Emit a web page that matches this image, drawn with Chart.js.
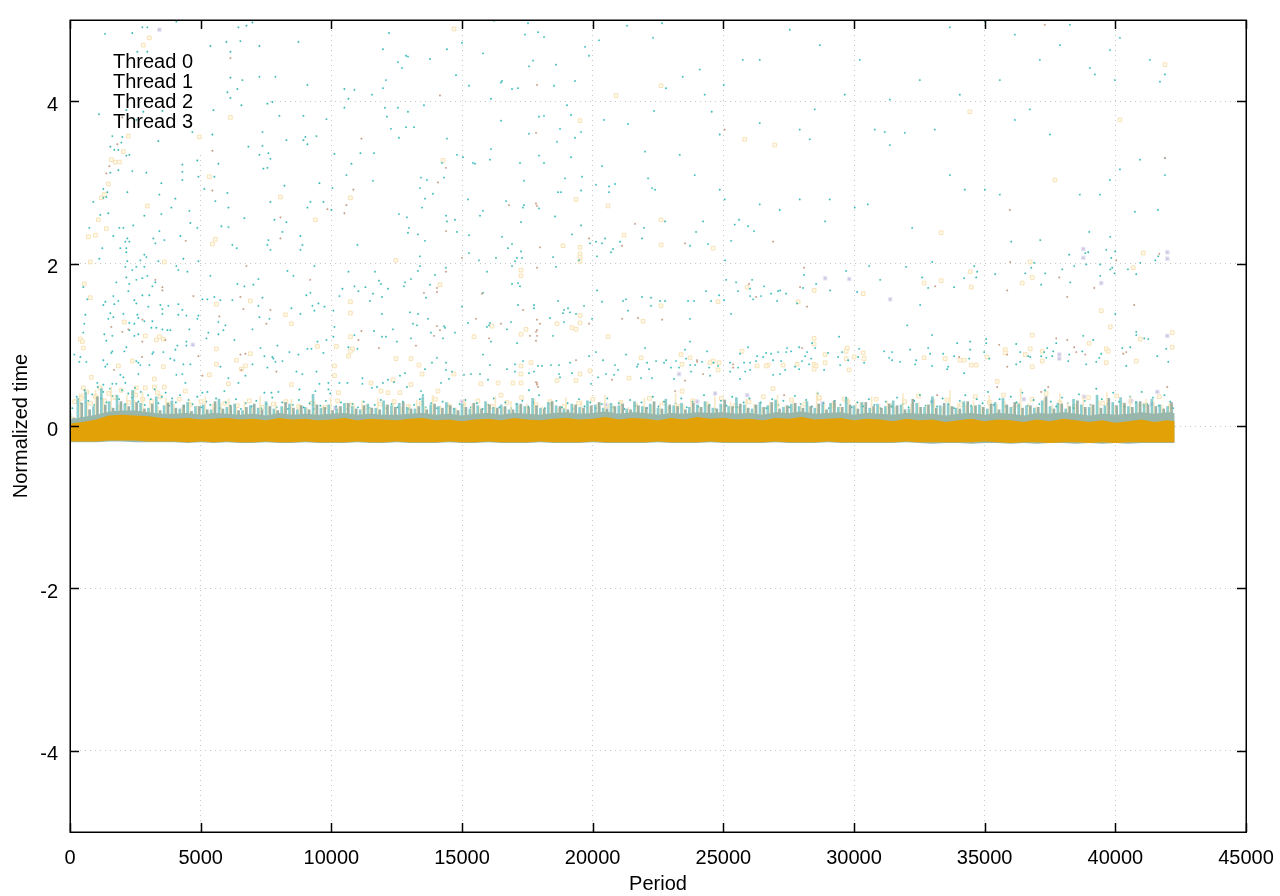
<!DOCTYPE html>
<html><head><meta charset="utf-8">
<style>html,body{margin:0;padding:0;background:#fff}#w{width:1280px;height:896px;position:relative}</style>
<script src="https://cdn.jsdelivr.net/npm/chart.js@4"></script>
</head><body><div id="w"><canvas id="c" width="1280" height="896"></canvas></div>
<script>
const threadNames=["Thread 0","Thread 1","Thread 2","Thread 3"];
const xTicks=[0,5000,10000,15000,20000,25000,30000,35000,40000,45000];
const yTicks=[-4,-2,0,2,4];
const thread0Points=[[3420,4.88],[28895,1.82],[29814,1.81],[31383,1.56],[23306,.64],[24684,.40],[25909,.38],[38772,2.18],[38772,2.07],[41988,2.14],[41988,2.06],[39461,1.76],[41988,1.11],[37854,.88],[37854,.83],[41605,.42],[4700,1.0],[10150,.22],[15000,.3],[20500,.26],[24000,.3],[28800,.28],[33000,.3],[36500,.33],[38800,.36],[40600,.31],[41400,.27]];
const thread1Points=[[1340,4.83],[2386,4.84],[2769,4.91],[2960,4.91],[4070,4.98],[6444,4.91],[6750,4.93],[6980,4.97],[5372,4.68],[5984,4.73],[6520,4.74],[7248,4.68],[8741,4.73],[6138,4.61],[2578,4.61],[2960,4.61],[6138,4.29],[6597,4.26],[7248,4.30],[7860,4.30],[9085,4.20],[10501,4.15],[10884,4.14],[6023,4.11],[6406,4.15],[6138,4.04],[6559,3.95],[7554,3.97],[7745,3.99],[10655,4.03],[10501,3.92],[5487,3.89],[8013,3.82],[8932,3.82],[9813,3.78],[1110,3.84],[2156,3.89],[2807,3.87],[3535,3.88],[2539,3.77],[5449,3.59],[7363,3.62],[1620,3.57],[2003,3.56],[3381,3.51],[4683,3.62],[8281,3.52],[9009,3.56],[9430,3.57],[8932,3.52],[9085,3.47],[6827,3.44],[7363,3.45],[1544,3.44],[1965,3.49],[1697,3.40],[1850,3.40],[2271,3.34],[2156,3.33],[7248,3.34],[7592,3.36],[7669,3.29],[10119,3.35],[11114,3.36],[5678,3.23],[4874,3.27],[4300,3.22],[7401,3.17],[7554,3.18],[10769,3.23],[1850,3.15],[2386,3.14],[2922,3.12],[1544,3.12],[4300,3.13],[4913,3.07],[5525,3.07],[4300,3.03],[10578,3.09],[3496,2.99],[9544,2.99],[8205,2.96],[10042,2.93],[5142,2.92],[2195,2.88],[6023,2.87],[1429,2.88],[1276,2.92],[3420,2.85],[4032,2.80],[5563,2.77],[7669,2.76],[9200,2.76],[9698,2.76],[893,2.76],[1391,2.82],[1276,2.81],[6061,2.69],[9085,2.69],[3879,2.69],[4568,2.65],[1467,2.62],[1161,2.60],[2845,2.59],[3496,2.61],[10004,2.66],[6673,2.56],
[12971,2.44],[12932,2.38],[13315,2.36],[13583,2.28],[14425,2.52],[14732,2.54],[14808,2.39],[15267,2.35],[16531,2.33],[17258,2.51],[19555,2.47],[19210,2.36],[21966,2.44],[21890,2.31],[22770,2.52],[16914,2.24],[16760,2.19],[17258,2.15],[15267,2.13],[13392,2.09],[16301,2.07],[15650,2.04],[17105,2.07],[17296,2.07],[17028,2.03],[18483,2.08],[20167,2.09],[20129,2.27],[20359,2.25],[20474,2.31],[21048,2.27],[20780,2.18],[20703,2.14],[19899,2.25],[19478,2.04],[13392,1.97],[13315,1.91],[14387,1.95],[11669,1.90],[15956,1.90],[16914,1.97],[18598,1.96],[13966,1.86],[13047,1.81],[11822,1.79],[11899,1.75],[12818,1.77],[12779,1.72],[13775,1.74],[16914,1.75],[17220,1.72],[17143,1.76],[12167,1.69],[11593,1.63],[11937,1.59],[15803,1.64],[13621,1.58],[20167,1.67],[11478,1.54],[17143,1.49],[17756,1.49],[17756,1.45],[18674,1.54],[20359,1.53],[19670,1.48],[21163,1.54],[21277,1.56],[21890,1.59],[22234,1.58],[22579,1.54],[22770,1.54],[22234,1.48],[21354,1.42],[14999,1.47],[13009,1.40],[13315,1.38],[11937,1.38],[18904,1.43],[19057,1.45],[19134,1.40],[18866,1.39],[19363,1.38],[18368,1.33],[13698,1.32],[13124,1.26],[13277,1.24],[15229,1.27],[16071,1.27],[16033,1.24],[15956,1.22],[16875,1.28],[16722,1.19],[18904,1.28],[19976,1.32],[14310,1.23],[14349,1.21],[12358,1.19],[11631,1.17],[13813,1.15],[14732,1.15],[18483,1.11],[11937,1.10],[12090,1.10],[13047,1.08],[14272,1.08],[12511,1.04],[16110,1.04],[17105,1.02],[22005,.96],[15803,.88],[14042,.84],[13851,.78],[14387,.78],[13583,.70],[12818,.65],[12626,.62],[14387,.69],[14617,.67],[17335,.80],[17028,.76],[16722,.70],[16071,.75],[17909,.74],[18062,.74],[18406,.75],[18713,.75],[19134,.78],[20129,.91],[19861,.86],[20397,.81],[21277,.88],[20856,.75],[21737,.76],[22082,.78],[22426,.80],[22732,.78],[22809,.81],[22158,.70],[21699,.73],[20512,.64],[20971,.69],[20818,.63],[21852,.59],[22273,.59],[20206,.60],[19210,.65],[18713,.64],[17756,.67],[17564,.65],[17028,.67],[15076,.63],[15344,.64],[15689,.64],[15995,.57],[12397,.54],[12167,.57],[11975,.53],[11746,.48],[11554,.47],[14196,.53],[14502,.58],[13430,.43],[13507,.38],[12894,.48],[17564,.44],[19938,.52],[18751,.60],
[35403,1.87],[34600,1.97],[34714,1.90],[34676,1.83],[36016,2.27],[37126,2.29],[38236,2.11],[39002,2.39],[39806,2.33],[38849,2.13],[38963,2.14],[39652,2.17],[39997,2.15],[39844,2.07],[40954,2.01],[41528,2.04],[41643,2.09],[36896,2.01],[36781,1.95],[36552,1.88],[37317,1.88],[37968,1.93],[38428,1.97],[38887,1.99],[39423,1.99],[39806,1.93],[39882,1.95],[39972,1.88],[40482,1.93],[40801,1.87],[39423,1.85],[38274,1.77],[37164,1.74],[39997,1.38],[40801,1.16],[40801,1.12],[41107,1.08],[41260,1.07],[39155,1.06],[38772,1.11],[37739,1.02],[35058,1.07],[35058,1.02],[36207,1.01],[40265,.96],[40571,.97],[41949,.95],[41605,.86],[42026,.79],[40418,.74],[39461,.89],[39384,.84],[39270,.79],[38887,.76],[38734,.92],[38236,.88],[38198,.80],[37623,.92],[37585,.86],[37394,.96],[37279,.91],[37164,.86],[37356,.84],[36743,.85],[36667,.86],[36360,.91],[36360,.79],[36207,.76],[35174,.83],[34982,.91],[34446,1.04],[34446,.94],[34408,.83]];
const thread2Points=[[740,2.44],[1888,2.44],[2042,2.44],[2424,2.47],[3420,2.40],[4606,2.50],[4874,2.44],[5793,2.46],[6061,2.45],[7822,2.54],[8281,2.51],[1659,2.34],[2195,2.31],[3190,2.31],[3611,2.29],[4224,2.34],[8128,2.39],[8817,2.34],[7592,2.29],[2118,2.27],[2271,2.27],[3267,2.25],[8894,2.23],[7554,2.23],[6214,2.23],[6380,2.19],[7669,2.17],[8817,2.17],[10999,2.23],[1238,2.19],[1927,2.19],[2156,2.19],[2156,2.14],[2845,2.11],[2922,2.08],[1123,2.06],[2692,2.04],[2195,2.03],[3381,2.03],[4338,2.06],[4913,2.03],[9353,1.97],[2118,1.96],[2539,1.96],[2845,1.96],[2386,1.92],[4070,1.97],[4147,1.92],[4492,1.90],[8320,1.91],[8549,1.85],[10655,1.90],[2156,1.83],[2539,1.80],[2769,1.82],[2960,1.85],[5372,1.85],[7209,1.81],[1774,1.77],[2271,1.75],[3267,1.77],[510,1.71],[3152,1.72],[6406,1.75],[6673,1.72],[7018,1.74],[10425,1.69],[10884,1.72],[11305,1.71],[2233,1.66],[11037,1.66],[9047,1.61],[9200,1.64],[1659,1.60],[2769,1.61],[3037,1.61],[10310,1.60],[664,1.56],[1850,1.54],[2463,1.55],[5257,1.56],[5066,1.56],[5525,1.59],[5755,1.55],[6214,1.55],[7363,1.58],[1276,1.49],[1353,1.53],[1697,1.50],[2539,1.51],[2999,1.47],[3458,1.49],[3764,1.48],[4147,1.50],[3535,1.44],[4300,1.43],[7209,1.48],[9506,1.51],[9277,1.48],[8473,1.45],[9736,1.47],[10080,1.42],[9353,1.42],[1544,1.39],[3535,1.38],[4147,1.37],[4453,1.36],[2042,1.38],[2578,1.37],[587,1.37],[1659,1.34],[1467,1.32],[2616,1.33],[4913,1.36],[4874,1.32],[7248,1.34],[7630,1.32],[2271,1.27],[2463,1.26],[2845,1.29],[3152,1.29],[5678,1.28],[8817,1.38],[549,1.26],[5946,1.24],[5870,1.18],[6980,1.19],[10119,1.22],[3113,1.21],[3305,1.21],[3535,1.19],[3726,1.18],[3841,1.18],[4568,1.19],[2271,1.18],[510,1.15],[1314,1.13],[2616,1.13],[2463,1.11],[1621,1.11],[5295,1.15],[5678,1.13],[5219,1.08],[10080,1.10],[10884,1.12],[1391,1.05],[4453,1.04],[6291,1.06],[9468,1.04],[9812,1.06],[2156,.97],[4109,.99],[4453,.99],[4032,.94],[7286,.96],[7937,.99],[2080,.92],[1621,.92],[1582,.90],[3190,.91],[3573,.91],[3152,.89],[9085,.95],[9238,.95],[10655,.97],[10999,.95],[7439,.86],[7745,.85],[8741,.88],[8396,.91],[9698,.90],[166,.88],[396,.85],[1276,.81],[3841,.83],[3994,.81],[2539,.80],[2616,.78],[2692,.75],[3037,.75],[625,.79],[357,.79],[4606,.76],[4338,.76],[6980,.76],[7784,.83],[7860,.79],[8128,.80],[7554,.72],[9430,.67],[8894,.64],[8664,.67],[11191,.59],[1353,.73],[1429,.76],[1927,.63],[2042,.60],[2616,.64],[4300,.64],[4070,.63],[6061,.59],[5755,.73],[6712,.62],[1046,.53],[4415,.53],[6444,.53],[9889,.53],[9544,.52],[10310,.53],[10616,.53],[11191,.52],[9889,.45],[8779,.45],[7975,.42],[9391,.43],[7707,.41],[7439,.41],[5066,.41],[5257,.42],[5908,.43],[2118,.53],[1621,.52],[1276,.51],
[12205,4.84],[11975,4.64],[12856,4.56],[12932,4.55],[12550,4.48],[12703,4.41],[13775,4.52],[14425,4.64],[14770,4.32],[12090,4.26],[11975,4.16],[11554,4.08],[14999,4.72],[15803,4.59],[16224,4.99],[17526,4.96],[17411,4.82],[17909,4.85],[18138,4.79],[19708,4.67],[19861,4.56],[17717,4.50],[17564,4.43],[18598,4.45],[20244,4.75],[21316,4.93],[22656,4.96],[22311,4.78],[15267,4.19],[16531,4.25],[16492,4.23],[16914,4.15],[17143,4.16],[18521,4.19],[19325,4.25],[22809,4.16],[16110,4.03],[13545,3.95],[12052,3.92],[12550,3.92],[12932,3.87],[12128,3.81],[12282,3.66],[12856,3.68],[13162,3.68],[12588,3.55],[14425,3.54],[19019,3.95],[19172,3.83],[17947,3.81],[18138,3.82],[16492,3.76],[22349,3.88],[20435,3.77],[21354,3.72],[18751,3.66],[19555,3.62],[17564,3.60],[19325,3.55],[18636,3.50],[16110,3.41],[11631,3.36],[14808,3.34],[15038,3.31],[16071,3.28],[15421,3.24],[15497,3.23],[17220,3.24],[17947,3.33],[18138,3.24],[19172,3.31],[22005,3.38],[14234,3.24],[20359,3.20],[13430,3.06],[13660,3.03],[14310,3.06],[11593,3.02],[17373,3.02],[18943,3.05],[19593,3.07],[22120,3.05],[20129,2.97],[20627,2.95],[20856,2.98],[22273,2.93],[22388,2.91],[13392,2.93],[13889,2.86],[19555,2.90],[18674,2.88],[18789,2.88],[20627,2.88],[13583,2.80],[15229,2.79],[16684,2.77],[13468,2.69],[17373,2.72],[17335,2.69],[17947,2.68],[15803,2.65],[12588,2.61],[15689,2.59],[14387,2.59],[18560,2.58],[12894,2.57],
[24225,2.52],[25603,2.54],[25948,2.46],[26177,2.40],[23957,2.39],[23727,2.22],[24416,2.24],[25297,2.28],[28895,2.52],[32226,2.44],[25067,2.04],[32991,2.02],[30579,1.97],[31996,1.96],[29699,1.91],[28091,1.86],[32608,1.83],[31000,1.80],[34216,1.82],[25105,1.80],[25488,1.77],[26101,1.80],[26560,1.72],[28551,1.75],[28053,1.70],[29087,1.67],[25565,1.66],[26024,1.69],[27096,1.66],[27173,1.67],[32838,1.70],[33833,1.71],[24340,1.66],[30120,1.65],[24837,1.61],[26024,1.60],[26139,1.56],[26445,1.60],[27402,1.63],[26828,1.63],[23651,1.54],[23880,1.54],[24531,1.54],[25029,1.55],[27058,1.54],[27823,1.51],[32532,1.49],[25297,1.38],[23727,1.32],[32034,1.24],[29431,1.10],[32991,1.12],[23727,1.04],[33948,1.02],[23536,.94],[24378,.92],[25948,.97],[25641,.89],[32149,.94],[32838,.96],[32915,.89],[31154,.92],[31460,.91],[30197,.95],[27440,.96],[26637,.90],[26828,.89],[27096,.91],[27402,.91],[27593,.92],[27900,.97],[28206,.91],[28398,1.02],[28512,.96],[29010,.90],[29546,.91],[30158,.85],[33412,.89],[33833,.86],[32379,.81],[31766,.79],[31345,.84],[31460,.81],[30388,.78],[29776,.81],[29393,.85],[28130,.86],[28014,.80],[28359,.83],[27211,.80],[26292,.86],[26254,.80],[26522,.85],[26905,.81],[23000,.72],[23306,.72],[23191,.80],[23574,.83],[23727,.75],[23919,.75],[24187,.79],[24621,.78],[24455,.72],[24799,.74],[25259,.78],[25259,.67],[25565,.72],[25794,.78],[26024,.78],[26024,.69],[25833,.67],[27364,.69],[26905,.63],[27173,.64],[27747,.73],[27900,.70],[28283,.76],[28857,.69],[29469,.75],[23115,.58],[25641,.58],[23766,.67],[24493,.62],[32341,.76],[32991,.74],[33604,.73],[33565,.70],[34216,.65],
[23447,4.30],[24097,4.39],[24288,4.08],[25015,4.20],[25743,4.51],[24556,3.87],[26393,3.73],[28499,3.90],[27925,3.65],[28308,3.53],[30796,3.65],[31179,3.62],[33093,3.65],[31945,3.61],[24863,3.59],[23332,3.34],[23906,3.09],[24863,2.91],[25053,2.79],[26393,2.73],[25436,2.48],[27159,2.66],[27925,2.79],[29073,2.79],[30030,2.69],[30527,2.73],[31371,3.46],[33667,3.09],[34241,2.91],[35007,2.91],[35581,2.85],[36155,3.77],[37495,3.59],[38260,4.94],[39026,4.41],[39218,4.33],[39984,4.26],[40176,4.78],[41707,4.24],[41898,4.33],[41898,3.09],[41898,3.30],[39792,3.03],[40176,3.16],[40941,3.28],[39409,2.85],[38643,2.85],[36155,4.82],[36729,3.90],[33667,4.91],[35007,4.98],[37112,4.51],[37878,4.69],[39792,4.63],[41324,4.51],[32519,4.26],[30221,4.51],[28691,4.69],[27542,4.88],[26393,4.51],[35581,4.26],[34049,4.08],[31371,4.02],[29648,4.08],[41630,2.66],[40750,2.64]];
const thread3Points=[[3037,4.78],[2807,4.69],[2233,3.57],[4951,3.56],[6138,3.80],[2042,3.38],[1582,3.28],[1735,3.25],[1889,3.25],[5334,3.07],[1467,2.98],[2960,2.71],[8052,2.82],[10731,2.81],[1314,2.85],[1199,2.81],
[1085,2.54],[1391,2.43],[702,2.33],[970,2.35],[5563,2.30],[5449,2.24],[9391,2.54],[778,2.02],[3611,2.02],[549,1.75],[778,1.58],[5602,1.50],[6903,1.54],[8243,1.37],[10731,1.53],[10731,1.39],[2080,1.28],[8473,1.26],[2884,1.11],[3420,1.10],[3305,1.06],[3573,1.07],[10731,1.10],[396,1.07],[472,1.04],[510,.96],[5602,.95],[10195,.98],[9468,.98],[10808,.95],[10731,.92],[10655,.86],[6903,.89],[6367,.81],[2386,.80],[1850,.74],[3573,.73],[5602,.76],[6712,.74],[10119,.74],[817,.60],[3228,.58],[5334,.63],[10119,.62],[6061,.52],[8473,.51],[3611,.48],[3228,.48],[510,.47],[2539,.47],[2884,.47],[4415,.43],[3343,.41],[2424,.40],[510,.37],[10272,.41],[6559,.70],
[14693,4.89],[14272,3.27],[19517,3.76],[20895,4.07],[22617,4.19],[19363,2.79],[20588,2.71],[12473,2.04],[18866,2.22],[19517,2.20],[19517,2.12],[19517,2.08],[19517,2.03],[22617,2.23],[21201,2.35],[22617,2.54],[17258,1.92],[17258,1.85],[14157,1.74],[19517,1.36],[19517,1.27],[18636,1.26],[19363,1.19],[19210,1.21],[17449,1.19],[17258,1.13],[16148,1.23],[15459,1.10],[20589,1.10],[21928,1.29],[22617,1.48],[12473,.83],[13047,.83],[13353,.75],[17641,.78],[17258,.74],[17258,.64],[19517,.64],[19899,.68],[21852,.84],[21392,.59],[17258,.53],[16952,.53],[16378,.53],[18636,.56],[19363,.56],[15727,.52],[11516,.53],[13047,.51],[13468,.64],[14694,.64],[12358,.57],[12167,.41],[12626,.41],[14081,.43],[16492,.38],[11899,.43],
[24608,2.19],[33336,2.38],[33336,1.79],[32685,1.76],[25909,1.71],[28474,1.67],[30350,1.63],[24799,1.53],[27862,1.53],[28474,1.08],[28474,1.01],[29737,.96],[29699,.92],[30350,.90],[32685,.84],[33489,.83],[34063,.81],[34216,.81],[30388,.83],[30005,.85],[29699,.83],[28895,.88],[28895,.78],[28474,.76],[28551,.74],[28474,.70],[27823,.76],[27287,.75],[26713,.75],[26637,.74],[26292,.74],[25718,.92],[29814,.69],[23383,.88],[23727,.84],[23421,.76],[24608,.80],[24493,.78],[24837,.78],[24799,.69],[23421,.43],[26905,.46],[28665,.34],[29629,.33],
[36743,2.02],[41069,2.13],[40686,1.95],[36820,1.83],[36437,1.76],[39461,1.42],[39806,1.22],[36820,1.12],[40954,1.07],[42179,1.15],[42179,.97],[38994,1.02],[36743,.95],[39652,.95],[39729,.92],[37203,.92],[35786,.94],[35786,.90],[36552,.88],[35097,.85],[37203,.80],[40801,.80],[39652,.78],[34676,.75],[34485,.75],[36820,.73],[35480,.55],[34446,1.90],[34485,1.71],
[25819,3.53],[26967,3.46],[34432,3.87],[37686,3.03],[40176,3.77],[41898,4.45],
[180,.30],[420,.34],[640,.42],[790,.28],[980,.36],[1150,.47],[1330,.31],[1480,.40],[1720,.35],[1960,.44],[2240,.29],[2510,.38],[2780,.33],[3120,.30],[3460,.36],[3790,.27],[4180,.33],[4600,.26],[5020,.30],[5510,.24],[5930,.28],[6400,.25],[6860,.31],[7350,.23],[7780,.27],[8260,.30],[8750,.24],[9240,.28],[9760,.23],[10240,.31],[10790,.26],[11320,.23],[11870,.27],[12400,.30],[12950,.24],[13440,.28],[13980,.33],[14520,.24],[15060,.27],[15610,.31],[16140,.24],[16720,.29],[17280,.35],[17840,.26],[18370,.30],[18910,.24],[19460,.28],[20010,.33],[20540,.25],[21080,.29],[21640,.26],[22170,.34],[22730,.28],[23280,.24],[23830,.31],[24360,.27],[24920,.34],[25450,.25],[25980,.30],[26530,.36],[27060,.26],[27610,.32],[28120,.27],[28670,.35],[29210,.25],[29760,.30],[30300,.26],[30850,.33],[31380,.25],[31930,.30],[32470,.37],[33010,.27],[33560,.32],[34100,.26],[34640,.36],[35180,.29],[35720,.38],[36260,.26],[36810,.33],[37350,.40],[37880,.29],[38430,.24],[38970,.35],[39510,.28],[40050,.37],[40590,.30],[41130,.26],[41680,.36],[42110,.24]];
const overlapPoints=[[6138,4.53],[5449,3.39],[5449,2.90],[11152,3.54],[10846,2.91],[10578,2.72],[9851,2.67],[10501,2.62],[8052,2.57],[2003,3.80],[1391,3.11],[1506,3.20],[1812,3.47],
[4428,2.28],[8052,2.31],[6750,1.97],[9187,1.80],[3267,1.80],[3535,1.71],[3535,1.67],[4721,1.60],[6520,1.59],[6635,1.44],[7669,1.43],[5716,1.35],[7516,1.26],[1582,1.22],[2003,1.16],[2233,1.19],[2769,1.31],[11152,1.17],[11037,1.06],[2769,1.04],[3649,1.06],[4913,.86],[6520,.88],[6712,.89],[7898,.67],[5066,.62],[6559,.69],[1684,.69],[2756,.85],
[14157,4.07],[17870,4.20],[17832,3.61],[14387,3.18],[14081,3.00],[16799,2.72],[17832,2.74],[17870,2.71],[14387,2.40],[17985,2.20],[21125,2.22],[21622,2.49],[19861,2.31],[17870,1.95],[14999,2.07],[14387,1.90],[13545,1.64],[14042,1.65],[14042,1.70],[15765,1.63],[17335,1.43],[15535,1.32],[16492,1.26],[17870,1.31],[17985,1.26],[17870,1.18],[17832,1.16],[17603,1.11],[17870,1.11],[17832,1.05],[16033,1.08],[14042,1.23],[14157,1.18],[13928,1.11],[11822,.96],[13239,.99],[21125,1.32],[21737,1.33],[22656,1.31],[19861,1.26],[19363,.81],[20741,.57],[17870,.53],[17870,.51],[17832,.54],[17909,.48],
[23536,2.25],[26905,2.27],[28091,1.95],[25986,1.75],[27938,1.71],[33106,1.72],[26254,1.59],[28206,1.47],[28015,.96],[23995,.81],[23995,.79],[25373,.76],[25373,.72],[24225,.64],[23536,.56],[23153,.43],[27326,.38],[33183,.38],[34025,.85],
[35863,1.67],[35977,2.02],[37854,1.83],[38160,1.59],[39193,1.70],[40724,1.49],[41681,2.12],[37739,1.08],[38160,1.06],[35556,1.00],[38428,.97],[38504,.91],[38849,.88],[35863,.88],[35863,.73],[35480,.48],[37432,.48],[41988,.48],[40303,.89],[40418,.91],[37164,.42],[40035,2.04],[25053,3.65],[41898,3.30],[37303,4.94],[35964,2.66]];
// Speckle just above the dense band
const speckleTeal=[[90,.22],[260,.36],[410,.28],[560,.44],[700,.31],[850,.39],[930,.26],[1060,.48],[1190,.34],[1270,.42],[1400,.29],[1530,.46],[1610,.37],[1770,.52],[1880,.33],[1990,.44],[2120,.27],[2230,.40],[2370,.35],[2490,.47],[2620,.30],[2710,.42],[2860,.26],[2990,.38],[3090,.33],[3240,.45],[3380,.28],[3510,.36],[3660,.41],[3780,.25],[3910,.34],[4050,.29],[4210,.38],[4360,.24],[4540,.32],[4690,.27],[4870,.36],[5030,.23],[5210,.30],[5370,.26],[5590,.34],[5740,.22],[5960,.29],[6130,.25],[6350,.33],[6540,.21],[6720,.28],[6950,.24],[7130,.31],[7310,.22],[7520,.27],[7740,.35],[7910,.23],[8120,.29],[8340,.21],[8530,.26],[8760,.32],[8940,.23],[9170,.28],[9350,.21],[9580,.25],[9790,.31],[9960,.40],[10180,.24],[10370,.29],[10590,.21],[10810,.27],[11020,.23],[11240,.30],[11470,.22],[11660,.26],[11890,.32],[12090,.22],[12310,.27],[12530,.23],[12740,.30],[12960,.21],[13170,.26],[13390,.33],[13610,.23],[13820,.28],[14040,.22],[14260,.30],[14470,.25],[14700,.21],[14910,.27],[15130,.32],[15340,.23],[15570,.28],[15790,.21],[16000,.26],[16220,.34],[16430,.23],[16660,.29],[16880,.22],[17090,.27],[17310,.31],[17530,.24],[17740,.29],[17950,.38],[18170,.22],[18390,.27],[18610,.31],[18820,.23],[19040,.28],[19260,.21],[19480,.33],[19690,.24],[19910,.29],[20130,.22],[20350,.27],[20560,.34],[20780,.23],[21000,.28],[21210,.21],[21430,.32],[21650,.25],[21870,.29],[22080,.22],[22300,.36],[22520,.24],[22730,.30],[22950,.22],[23170,.28],[23390,.34],[23600,.23],[23820,.30],[24040,.24],[24260,.38],[24470,.26],[24690,.21],[24910,.31],[25120,.25],[25340,.36],[25560,.23],[25780,.29],[26000,.34],[26210,.24],[26430,.29],[26650,.22],[26870,.33],[27090,.26],[27300,.31],[27520,.23],[27740,.37],[27960,.27],[28170,.32],[28390,.24],[28610,.40],[28830,.28],[29040,.22],[29260,.31],[29480,.26],[29700,.35],[29910,.23],[30130,.29],[30350,.24],[30570,.33],[30780,.26],[31000,.22],[31220,.30],[31440,.24],[31650,.35],[31870,.27],[32090,.23],[32310,.31],[32520,.38],[32740,.25],[32960,.30],[33180,.24],[33390,.34],[33610,.27],[33830,.22],[34050,.31],[34260,.38],[34480,.25],[34700,.33],[34920,.28],[35130,.42],[35350,.26],[35570,.33],[35790,.24],[36000,.36],[36220,.29],[36440,.41],[36660,.25],[36870,.32],[37090,.27],[37310,.44],[37530,.30],[37740,.24],[37960,.35],[38180,.28],[38400,.22],[38610,.39],[38830,.31],[39050,.26],[39270,.46],[39480,.33],[39700,.27],[39920,.41],[40140,.30],[40350,.24],[40570,.36],[40790,.29],[41010,.42],[41220,.27],[41440,.35],[41660,.25],[41880,.38],[42100,.30],[42210,.22]];
// Envelopes of the dense band, read every 500 periods
const orangeTop=[.03,.05,.08,.13,.14,.13,.12,.10,.09,.10,.08,.09,.10,.08,.09,.07,.10,.08,.09,.07,.08,.10,.07,.09,.08,.07,.09,.10,.07,.08,.06,.08,.09,.07,.10,.08,.07,.09,.10,.08,.09,.11,.08,.10,.09,.07,.10,.08,.11,.09,.10,.08,.09,.07,.10,.09,.11,.08,.09,.10,.07,.09,.08,.06,.09,.07,.08,.05,.07,.09,.06,.08,.07,.05,.08,.06,.09,.07,.05,.07,.04,.06,.08,.05,.07,.06];
const orangeBottom=[-.19,-.19,-.19,-.18,-.18,-.18,-.19,-.19,-.19,-.2,-.19,-.2,-.19,-.2,-.2,-.19,-.2,-.2,-.19,-.2,-.2,-.2,-.19,-.2,-.2,-.19,-.2,-.2,-.2,-.19,-.2,-.2,-.19,-.2,-.2,-.2,-.19,-.2,-.2,-.2,-.19,-.2,-.2,-.2,-.2,-.19,-.2,-.2,-.2,-.19,-.2,-.2,-.2,-.2,-.19,-.2,-.2,-.2,-.19,-.2,-.2,-.2,-.2,-.2,-.19,-.2,-.2,-.2,-.2,-.2,-.19,-.2,-.21,-.2,-.2,-.21,-.2,-.2,-.21,-.2,-.21,-.2,-.2,-.2,-.2,-.2];
const fringeTop=[.08,.11,.14,.18,.19,.19,.17,.15,.15,.16,.14,.16,.15,.14,.15,.13,.16,.14,.15,.14,.15,.16,.14,.15,.14,.14,.15,.16,.14,.15,.13,.15,.16,.14,.16,.15,.14,.16,.17,.15,.16,.18,.15,.17,.16,.14,.16,.15,.17,.16,.17,.15,.16,.14,.17,.16,.18,.15,.16,.17,.14,.16,.15,.14,.16,.15,.15,.13,.15,.16,.14,.16,.15,.13,.16,.15,.17,.15,.13,.15,.14,.15,.17,.15,.17,.16];
const fringeBottom=[-.2,-.2,-.2,-.19,-.19,-.2,-.2,-.2,-.2,-.21,-.2,-.21,-.2,-.21,-.21,-.2,-.21,-.21,-.2,-.21,-.21,-.21,-.2,-.21,-.21,-.2,-.21,-.21,-.21,-.2,-.21,-.21,-.2,-.21,-.21,-.21,-.2,-.21,-.21,-.21,-.2,-.21,-.21,-.21,-.21,-.2,-.21,-.21,-.21,-.2,-.21,-.21,-.21,-.21,-.2,-.21,-.21,-.21,-.2,-.21,-.21,-.21,-.21,-.21,-.2,-.21,-.22,-.21,-.21,-.22,-.21,-.21,-.22,-.21,-.22,-.21,-.21,-.22,-.21,-.22,-.21,-.22,-.21,-.21,-.21,-.21];
// Spike tops above the band, read every 300 periods
const spikesTeal=[.16,.34,.42,.24,.46,.30,.38,.27,.44,.28,.22,.36,.25,.31,.21,.29,.24,.26,.20,.33,.23,.27,.19,.25,.22,.30,.21,.24,.27,.20,.23,.39,.22,.26,.21,.28,.24,.20,.27,.22,.31,.25,.28,.23,.21,.36,.26,.24,.29,.22,.27,.21,.25,.30,.23,.26,.20,.28,.24,.34,.22,.29,.25,.21,.27,.23,.31,.26,.22,.28,.25,.21,.30,.24,.27,.22,.33,.25,.28,.23,.26,.30,.22,.27,.24,.35,.26,.21,.29,.25,.32,.23,.27,.24,.30,.22,.26,.28,.23,.34,.25,.29,.22,.27,.24,.31,.26,.21,.28,.23,.36,.25,.27,.22,.30,.24,.26,.21,.29,.34,.23,.27,.25,.22,.31,.24,.28,.21,.33,.26,.23,.38,.25,.29,.35,.24,.30,.27,.33,.26,.24];
const spikesGray=[.10,.28,.20,.36,.26,.22,.30,.24,.29,.21,.27,.19,.28,.22,.26,.18,.24,.20,.30,.21,.25,.19,.23,.27,.20,.24,.19,.29,.22,.25,.20,.26,.23,.19,.24,.28,.21,.25,.22,.20,.26,.23,.29,.21,.24,.20,.27,.22,.25,.19,.23,.28,.21,.26,.22,.24,.20,.27,.23,.25,.21,.30,.24,.20,.26,.22,.25,.29,.21,.24,.27,.20,.25,.23,.30,.21,.26,.24,.20,.28,.23,.25,.21,.32,.24,.27,.22,.26,.23,.29,.21,.25,.28,.22,.24,.27,.20,.31,.23,.26,.21,.29,.24,.22,.27,.25,.20,.33,.23,.26,.22,.28,.24,.21,.30,.25,.23,.27,.20,.26,.29,.22,.25,.23,.36,.21,.27,.24,.31,.23,.26,.22,.34,.25,.28,.23,.30,.26,.24,.21,.29];
const spikesPale=[.12,.40,.30,.44,.34,.48,.26,.38,.32,.42,.28,.24,.34,.27,.23,.32,.25,.36,.22,.28,.34,.24,.30,.22,.37,.25,.29,.23,.33,.26,.22,.30,.25,.35,.23,.28,.24,.31,.22,.34,.26,.29,.23,.27,.32,.24,.38,.25,.29,.22,.33,.26,.24,.28,.36,.23,.30,.25,.27,.33,.24,.29,.22,.35,.26,.31,.24,.28,.38,.25,.30,.23,.27,.34,.25,.29,.24,.40,.26,.31,.23,.28,.36,.25,.30,.24,.33,.27,.23,.29,.38,.25,.31,.26,.24,.42,.27,.30,.25,.34,.28,.23,.36,.26,.31,.24,.40,.27,.29,.25,.33,.23,.44,.28,.26,.31,.24,.38,.27,.30,.25,.46,.28,.24,.34,.26,.40,.29,.25,.36,.27,.31,.42,.25,.29,.36,.27,.33,.30,.26,.28];
const bandPeriods=orangeTop.map((_,i)=>Math.min(i*500,42270));
const xy=a=>a.map(p=>({x:p[0],y:p[1]}));
const env=a=>a.map((v,i)=>({x:bandPeriods[i],y:v}));
const bars=(a,offset,base)=>a.map((v,i)=>({x:offset+i*300,y:[base,v]})).filter(d=>d.x<42270);
const dot=(label,pts,color,halo,order)=>({type:'scatter',label,data:xy(pts),order,pointStyle:'circle',pointRadius:0.9,pointHoverRadius:0.9,pointBackgroundColor:color,pointBorderColor:halo,pointBorderWidth:1,showLine:false});
const box=(label,pts,color,fillc,order)=>({type:'scatter',label,data:xy(pts),order,pointStyle:'rect',pointRadius:2.6,pointHoverRadius:2.6,pointBackgroundColor:fillc,pointBorderColor:color,pointBorderWidth:1,showLine:false});
const area=(label,a,color,target,order)=>({type:'line',label,data:env(a),order,borderWidth:0,pointRadius:0,tension:0,backgroundColor:color,fill:target===null?false:{target}});
const spike=(label,a,offset,color,width,order)=>({type:'bar',label,data:bars(a,offset,0),order,backgroundColor:color,barThickness:width,grouped:false});
const datasets=[
 area('band orange top',orangeTop,'#e2a107',1,1),
 area('band orange bottom',orangeBottom,'#e2a107',null,1),
 area('band fringe top',fringeTop,'#98b6aa',3,2),
 area('band fringe bottom',fringeBottom,'#62b8b2',null,2),
 spike('spikes gray',spikesGray,150,'rgba(140,165,150,.85)',2,3),
 spike('spikes teal',spikesTeal,0,'rgba(102,188,188,.75)',2,4),
 spike('spikes pale',spikesPale,75,'rgba(247,227,184,.8)',1,5),
 dot(threadNames[0]+' overlap',overlapPoints,'#c69c84','rgba(200,170,150,.2)',6),
 box(threadNames[3],thread3Points,'#f7e2b6','rgba(255,250,235,.9)',9),
 box(threadNames[0],thread0Points,'#ebe7f4','#cfc8e4',8),
 dot(threadNames[1],thread1Points.concat(speckleTeal),'#35b5ac','rgba(120,210,205,.22)',7),
 dot(threadNames[2],thread2Points,'#35b8b8','rgba(120,210,215,.22)',7)
];
const frame={id:'frame',
 afterLayout(c){const a=c.chartArea,X=c.scales.x,Y=c.scales.y;
  a.left=70;a.right=1246;a.top=20;a.bottom=832;a.width=1176;a.height=812;
  X.left=70;X.right=1246;X.width=1176;X.top=832;X.bottom=896;X.height=64;X.configure();
  Y.left=0;Y.right=70;Y.width=70;Y.top=20;Y.bottom=832;Y.height=812;Y.configure();},
 beforeDatasetsDraw(c){const x=c.ctx,a=c.chartArea;x.save();x.fillStyle='#fff';x.fillRect(a.left+1,a.top+1,198,130);x.restore();},
 afterDraw(c){const x=c.ctx,a=c.chartArea,L=9;x.save();x.strokeStyle='#000';x.lineWidth=1.5;x.setLineDash([]);
  x.strokeRect(a.left+.25,a.top+.25,a.right-a.left,a.bottom-a.top);
  x.beginPath();
  c.scales.x.ticks.forEach(t=>{const p=Math.round(c.scales.x.getPixelForValue(t.value))+.5;x.moveTo(p,a.top);x.lineTo(p,a.top+L);x.moveTo(p,a.bottom);x.lineTo(p,a.bottom-L);});
  c.scales.y.ticks.forEach(t=>{const p=Math.round(c.scales.y.getPixelForValue(t.value))+.5;x.moveTo(a.left,p);x.lineTo(a.left+L,p);x.moveTo(a.right,p);x.lineTo(a.right-L,p);});
  x.stroke();
  x.fillStyle='#000';x.font='20px "Liberation Sans"';x.textBaseline='middle';x.textAlign='left';
  threadNames.forEach((n,i)=>x.fillText(n,113,62+i*20));
  x.restore();}};
const font={family:'"Liberation Sans"',size:20};
new Chart(document.getElementById('c'),{
 data:{datasets},
 plugins:[frame],
 options:{responsive:false,animation:false,events:[],layout:{autoPadding:false,padding:{top:20,right:34,left:0,bottom:0}},
  plugins:{legend:{display:false},tooltip:{enabled:false}},
  scales:{
   x:{type:'linear',offset:false,min:0,max:45000,afterBuildTicks:s=>{s.ticks=xTicks.map(v=>({value:v}));},afterFit:s=>{s.height=64;},
    grid:{offset:false,color:'#c8c8c8',drawTicks:false,tickLength:0},border:{display:false,dash:[1,4]},
    ticks:{font,color:'#000',padding:14,maxRotation:0,autoSkip:false,callback:v=>String(v)},
    title:{display:true,text:'Period',font,color:'#000',padding:{top:-3,bottom:0}}},
   y:{type:'linear',min:-5,max:5,afterBuildTicks:s=>{s.ticks=yTicks.map(v=>({value:v}));},afterFit:s=>{s.width=70;},
    grid:{color:'#c8c8c8',drawTicks:false,tickLength:0},border:{display:false,dash:[1,4]},
    ticks:{font,color:'#000',padding:12,labelOffset:4,autoSkip:false,callback:v=>String(v)},
    title:{display:true,text:'Normalized time',font,color:'#000',padding:{top:9,bottom:0}}}
  }}});
</script></body></html>
